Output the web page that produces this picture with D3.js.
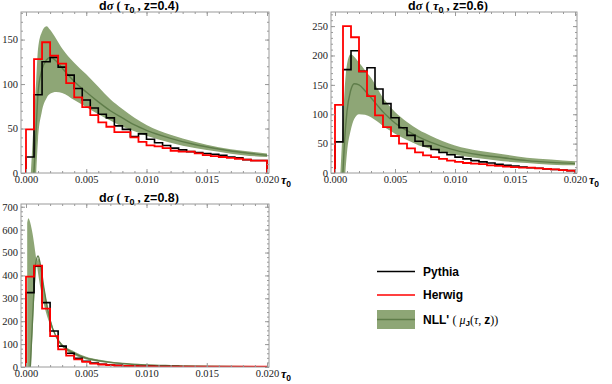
<!DOCTYPE html>
<html>
<head>
<meta charset="utf-8">
<script src="https://cdn.jsdelivr.net/npm/d3@7"></script>
<style>
  body { margin: 0; background: #fff; }
</style>
</head>
<body>
<script>
// ---- data ----
// 30 bins of width 0.02/30 in tau_0
const binWidth = 0.02 / 30;

const xMajorTicks = [0, 0.005, 0.010, 0.015, 0.020];

// z = 0.4
const pythia04 = [18, 88, 125, 130, 119, 110, 95, 82, 73, 66, 62, 53, 49, 41, 44, 38, 34, 31, 28, 26, 24, 23, 22, 21, 20, 18, 17, 15, 14, 14];
const herwig04 = [49, 128, 147, 132, 123, 101, 85, 74, 65, 57, 52, 46, 46, 40, 35, 31, 30, 28, 25, 24, 24, 22, 20, 19, 18, 17, 16, 15, 14, 14];
const tau04 = [0.0004, 0.0006, 0.00085, 0.001, 0.0013, 0.0017, 0.002, 0.0025, 0.003, 0.004, 0.005, 0.006, 0.007, 0.008, 0.009, 0.010, 0.012, 0.014, 0.016, 0.018, 0.020];
const nllHi04 = [0, 48, 105, 140, 158, 165, 161, 151, 140, 124, 111, 97, 83, 72, 62, 54, 43, 35, 29, 25, 22];
const nllLo04 = [-150, -80, 0, 38, 68, 84, 89, 91, 90, 82, 74, 66, 59, 52, 47, 42, 34, 28, 24, 20, 18];
const nllMid04 = [-75, -15, 52, 90, 115, 127, 130, 126, 118, 103, 91, 80, 70, 62, 54, 48, 39, 32, 27, 23, 20];

// z = 0.6
const pythia06 = [53, 176, 208, 173, 179, 143, 118, 94, 77, 64, 54, 46, 40, 35, 31, 27, 24, 21, 19, 17, 15, 13, 12, 10, 9, 8, 7, 6, 5, 4];
const herwig06 = [116, 250, 231, 173, 131, 98, 78, 63, 50, 42, 35, 30, 27, 24, 21, 19, 17, 16, 15, 13, 12, 11, 10, 9, 9, 8, 7, 6, 5, 4];
const tau06 = [0.0004, 0.0006, 0.0008, 0.001, 0.0013, 0.0016, 0.002, 0.0025, 0.003, 0.0035, 0.004, 0.0045, 0.005, 0.006, 0.007, 0.008, 0.009, 0.010, 0.012, 0.014, 0.016, 0.018, 0.020];
const nllHi06 = [-20, 60, 140, 185, 202, 198, 188, 175, 162, 145, 128, 115, 104, 87, 73, 63, 54, 47, 38, 32, 26, 23, 20];
const nllLo06 = [-200, -100, -20, 35, 72, 92, 100, 99, 95, 88, 80, 73, 67, 56, 47, 41, 35, 31, 25, 20, 17, 14, 13];
const nllMid06 = [-100, -25, 55, 105, 140, 152, 150, 140, 128, 116, 104, 94, 85, 72, 61, 52, 45, 39, 31, 26, 21, 18, 16];

// z = 0.8
const pythia08 = [325, 440, 281, 157, 91, 60, 38, 25, 17, 12, 9, 7, 5, 4, 3, 3, 2, 2, 2, 1, 1, 1, 1, 1, 1, 1, 1, 1, 1, 1];
const herwig08 = [395, 443, 255, 135, 77, 50, 33, 22, 15, 11, 8, 6, 5, 4, 3, 3, 2, 2, 2, 1, 1, 1, 1, 1, 1, 1, 1, 1, 1, 1];
const tau08 = [0.0001, 0.0002, 0.0003, 0.0004, 0.0005, 0.0006, 0.0008, 0.001, 0.0012, 0.0015, 0.002, 0.0025, 0.003, 0.004, 0.005, 0.006, 0.008, 0.010, 0.012, 0.015, 0.020];
const nllHi08 = [630, 650, 640, 620, 595, 565, 490, 410, 345, 270, 185, 135, 100, 68, 45, 33, 18, 11, 7, 4, 2];
const nllLo08 = [-600, -350, -150, -20, 100, 210, 400, 475, 440, 345, 215, 130, 88, 52, 33, 23, 12, 7, 4.5, 2.5, 1];
const nllMid08 = [-400, -200, -60, 50, 160, 270, 450, 485, 445, 340, 205, 132, 94, 60, 39, 28, 15, 9, 6, 3, 1.5];

// ---- styles ----
const bandFill = "#8ea676";
const midColor = "#5f7d4a";
const frameColor = "#9a9a9a";
const serif = "'Liberation Serif', 'DejaVu Serif', serif";
const sans = "'Liberation Sans', Arial, sans-serif";

const svg = d3.select("body").append("svg")
  .attr("width", 612)
  .attr("height", 384);

const panels = [
  { z: "0.4", pythia: pythia04, herwig: herwig04, tau: tau04, hi: nllHi04, lo: nllLo04, mid: nllMid04,
    frame: { left: 21, right: 269, top: 12, bottom: 173 }, xRange: [26, 267], yMax: 181, yMajor: 50, yMinor: 10, titleX: 139 },
  { z: "0.6", pythia: pythia06, herwig: herwig06, tau: tau06, hi: nllHi06, lo: nllLo06, mid: nllMid06,
    frame: { left: 331, right: 577, top: 12, bottom: 173 }, xRange: [335, 575], yMax: 274, yMajor: 50, yMinor: 10, titleX: 448 },
  { z: "0.8", pythia: pythia08, herwig: herwig08, tau: tau08, hi: nllHi08, lo: nllLo08, mid: nllMid08,
    frame: { left: 21, right: 269, top: 204, bottom: 367 }, xRange: [26, 267], yMax: 712, yMajor: 100, yMinor: 20, titleX: 139 }
];

panels.forEach(drawPanel);
drawLegend();

function drawPanel(p, idx) {
  const f = p.frame;
  const x = d3.scaleLinear().domain([0, 0.02]).range(p.xRange);
  const y = d3.scaleLinear().domain([0, p.yMax]).range([f.bottom, f.top]);
  const g = svg.append("g");

  g.append("clipPath").attr("id", "clip" + idx)
    .append("rect")
    .attr("x", f.left).attr("y", f.top)
    .attr("width", f.right - f.left).attr("height", f.bottom - f.top);

  const plot = g.append("g").attr("clip-path", `url(#clip${idx})`);

  // NLL' band and central curve
  const band = p.tau.map((t, i) => ({ t: t, lo: p.lo[i], mid: p.mid[i], hi: p.hi[i] }));
  plot.append("path")
    .datum(band)
    .attr("fill", bandFill)
    .attr("d", d3.area()
      .x(d => x(d.t))
      .y0(d => y(d.lo))
      .y1(d => y(d.hi))
      .curve(d3.curveMonotoneX));
  plot.append("path")
    .datum(band)
    .attr("fill", "none")
    .attr("stroke", midColor)
    .attr("stroke-width", 1.4)
    .attr("d", d3.line()
      .x(d => x(d.t))
      .y(d => y(d.mid))
      .curve(d3.curveMonotoneX));

  // histograms
  const hist = d3.line()
    .x(d => x(d.t))
    .y(d => y(d.v))
    .curve(d3.curveStepAfter);
  function steps(vals) {
    const pts = [{ t: 0, v: 0 }];
    vals.forEach((v, i) => pts.push({ t: i * binWidth, v: v }));
    pts.push({ t: 0.02, v: vals[vals.length - 1] });
    pts.push({ t: 0.02, v: 0 });
    return pts;
  }
  plot.append("path").datum(steps(p.pythia))
    .attr("fill", "none").attr("stroke", "#000").attr("stroke-width", 1.6)
    .attr("d", hist);
  plot.append("path").datum(steps(p.herwig))
    .attr("fill", "none").attr("stroke", "#f00").attr("stroke-width", 1.8)
    .attr("d", hist);

  // frame
  g.append("rect")
    .attr("x", f.left).attr("y", f.top)
    .attr("width", f.right - f.left).attr("height", f.bottom - f.top)
    .attr("fill", "none").attr("stroke", frameColor).attr("stroke-width", 1);

  // ticks
  const xMinor = d3.range(0, 0.0201, 0.001);
  const yMajor = d3.range(0, p.yMax, p.yMajor);
  const yMinor = d3.range(0, p.yMax, p.yMinor);

  addAxis(d3.axisBottom(x).tickValues(xMajorTicks).tickSize(-4).tickPadding(2.5).tickFormat(d3.format(".3f")), 0, f.bottom, true);
  addAxis(d3.axisBottom(x).tickValues(xMinor).tickSize(-2).tickFormat(""), 0, f.bottom);
  addAxis(d3.axisTop(x).tickValues(xMajorTicks).tickSize(-4).tickFormat(""), 0, f.top);
  addAxis(d3.axisTop(x).tickValues(xMinor).tickSize(-2).tickFormat(""), 0, f.top);
  addAxis(d3.axisLeft(y).tickValues(yMajor).tickSize(-4).tickPadding(3).tickFormat(d3.format("d")), f.left, 0, true);
  addAxis(d3.axisLeft(y).tickValues(yMinor).tickSize(-2).tickFormat(""), f.left, 0);
  addAxis(d3.axisRight(y).tickValues(yMajor).tickSize(-4).tickFormat(""), f.right, 0);
  addAxis(d3.axisRight(y).tickValues(yMinor).tickSize(-2).tickFormat(""), f.right, 0);

  function addAxis(axis, tx, ty, labels) {
    const a = g.append("g")
      .attr("transform", `translate(${tx},${ty})`)
      .call(axis.tickSizeOuter(0));
    a.attr("font-family", serif);
    a.select(".domain").remove();
    a.selectAll(".tick line").attr("stroke", frameColor);
    if (labels) {
      a.selectAll(".tick text")
        .attr("font-family", serif)
        .attr("font-size", 10.5)
        .attr("fill", "#222");
    } else {
      a.selectAll(".tick text").remove();
    }
  }

  // title: dσ(τ0, z=…)
  const t = g.append("text")
    .attr("x", p.titleX).attr("y", f.top - 2)
    .attr("text-anchor", "middle")
    .attr("font-size", 12.5);
  t.append("tspan").attr("font-family", sans).attr("font-weight", "bold").text("d");
  t.append("tspan").attr("font-family", serif).attr("font-style", "italic").attr("font-weight", "bold").text("σ");
  t.append("tspan").attr("font-family", serif).attr("font-weight", "bold").text(" ( ");
  t.append("tspan").attr("font-family", serif).attr("font-style", "italic").attr("font-weight", "bold").text("τ");
  t.append("tspan").attr("font-family", sans).attr("font-weight", "bold").attr("font-size", 9).attr("dy", 3).text("0");
  t.append("tspan").attr("font-family", serif).attr("font-weight", "bold").attr("dy", -3).text(" ,  ");
  t.append("tspan").attr("font-family", sans).attr("font-weight", "bold").text("z=" + p.z);
  t.append("tspan").attr("font-family", serif).attr("font-weight", "bold").text(")");

  // x label τ0
  const xl = g.append("text")
    .attr("x", f.right + 12).attr("y", f.bottom + 11)
    .attr("font-size", 12);
  xl.append("tspan").attr("font-family", serif).attr("font-style", "italic").attr("font-weight", "bold").text("τ");
  xl.append("tspan").attr("font-family", sans).attr("font-weight", "bold").attr("font-size", 8.5).attr("dy", 3).text("0");
}

function drawLegend() {
  const lg = svg.append("g");
  const x0 = 377, x1 = 415, tx = 423;

  lg.append("line").attr("x1", x0).attr("x2", x1).attr("y1", 271.5).attr("y2", 271.5)
    .attr("stroke", "#000").attr("stroke-width", 1.5);
  lg.append("text").attr("x", tx).attr("y", 275.5)
    .attr("font-family", sans).attr("font-weight", "bold").attr("font-size", 12).text("Pythia");

  lg.append("line").attr("x1", x0).attr("x2", x1).attr("y1", 295).attr("y2", 295)
    .attr("stroke", "#f00").attr("stroke-width", 1.5);
  lg.append("text").attr("x", tx).attr("y", 299)
    .attr("font-family", sans).attr("font-weight", "bold").attr("font-size", 12).text("Herwig");

  lg.append("rect").attr("x", x0).attr("y", 310).attr("width", x1 - x0).attr("height", 19)
    .attr("fill", bandFill);
  lg.append("line").attr("x1", x0).attr("x2", x1).attr("y1", 319.5).attr("y2", 319.5)
    .attr("stroke", midColor).attr("stroke-width", 1.4);
  const t = lg.append("text").attr("x", tx).attr("y", 323.5).attr("font-size", 12);
  t.append("tspan").attr("font-family", sans).attr("font-weight", "bold").text("NLL' ");
  t.append("tspan").attr("font-family", serif).text("( ");
  t.append("tspan").attr("font-family", serif).attr("font-style", "italic").text("μ");
  t.append("tspan").attr("font-family", sans).attr("font-weight", "bold").attr("font-size", 8).attr("dy", 2.5).text("J");
  t.append("tspan").attr("font-family", serif).attr("dy", -2.5).text("(");
  t.append("tspan").attr("font-family", serif).attr("font-style", "italic").text("τ");
  t.append("tspan").attr("font-family", serif).text(", ");
  t.append("tspan").attr("font-family", sans).attr("font-weight", "bold").text("z");
  t.append("tspan").attr("font-family", serif).text("))");
}
</script>
</body>
</html>
